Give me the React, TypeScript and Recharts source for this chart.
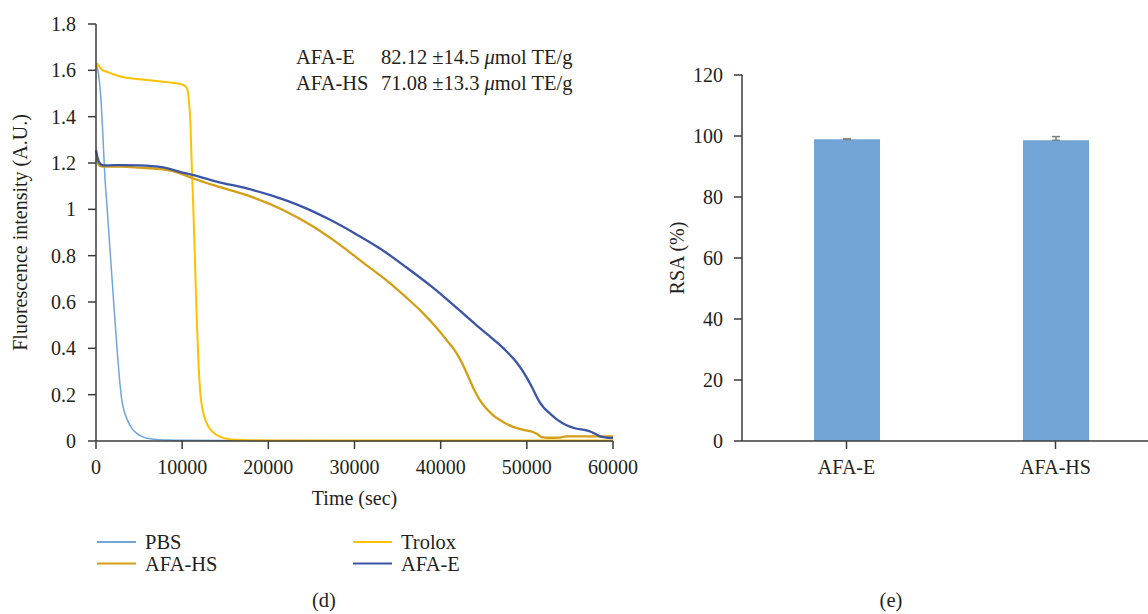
import { LineChart, Line, XAxis, YAxis, BarChart, Bar, ErrorBar } from "recharts";

const FONT = "'Liberation Serif', 'Times New Roman', serif";
const INK = "#231f20";
const AXIS = "#3b3b3b";

// ORAC kinetic curves (time in sec, fluorescence in A.U.)
const pbsTime = [0, 150, 400, 600, 800, 1000, 1300, 1600, 1900, 2200, 2500, 2800, 3000, 3300, 3650, 4100, 4700, 5300, 5900, 7000, 8500, 10000, 15000, 20000, 30000, 40000, 50000, 60000];
const pbsValue = [1.62, 1.61, 1.55, 1.46, 1.32, 1.16, 1.0, 0.84, 0.68, 0.52, 0.37, 0.24, 0.175, 0.125, 0.09, 0.058, 0.034, 0.02, 0.012, 0.007, 0.004, 0.003, 0.002, 0.002, 0.001, 0.001, 0.001, 0.001];

const troloxTime = [0, 150, 400, 800, 1250, 2000, 3200, 5000, 7000, 8500, 9750, 10300, 10600, 10800, 10950, 11100, 11300, 11500, 11700, 11900, 12100, 12400, 12700, 13000, 13400, 13900, 14500, 15300, 16500, 18000, 20000, 30000, 40000, 50000, 60000];
const troloxValue = [1.61, 1.63, 1.615, 1.6, 1.594, 1.583, 1.57, 1.562, 1.554, 1.548, 1.541, 1.533, 1.518, 1.46, 1.38, 1.2, 1.0, 0.76, 0.52, 0.33, 0.21, 0.13, 0.09, 0.065, 0.045, 0.028, 0.017, 0.009, 0.005, 0.003, 0.002, 0.002, 0.002, 0.002, 0.002];

const hsTime = [0, 200, 450, 800, 1500, 3000, 5000, 7800, 9750, 11300, 14000, 17500, 21700, 25000, 28000, 31000, 34000, 36000, 38000, 39500, 40700, 41650, 42500, 43300, 43900, 44550, 45300, 46100, 47200, 48400, 49900, 50700, 51200, 51700, 52500, 53800, 54600, 56000, 58000, 60000];
const hsValue = [1.22, 1.2, 1.188, 1.184, 1.184, 1.184, 1.18, 1.172, 1.155, 1.133, 1.1, 1.061, 0.997, 0.93, 0.855, 0.77, 0.685, 0.62, 0.55, 0.49, 0.435, 0.39, 0.335, 0.27, 0.22, 0.176, 0.14, 0.111, 0.083, 0.061, 0.046, 0.039, 0.03, 0.017, 0.014, 0.015, 0.02, 0.02, 0.02, 0.02];

const eTime = [0, 200, 450, 800, 1500, 3000, 5000, 7800, 9750, 11300, 14000, 17500, 20500, 23700, 27000, 30000, 33000, 36000, 39000, 42000, 44000, 45500, 46700, 47830, 48800, 49960, 50600, 51300, 52000, 52700, 53600, 54600, 55700, 56900, 57500, 58000, 58500, 59200, 60000];
const eValue = [1.256, 1.22, 1.198, 1.19, 1.19, 1.191, 1.19, 1.181, 1.162, 1.148, 1.12, 1.09, 1.058, 1.015, 0.958, 0.897, 0.83, 0.75, 0.665, 0.57, 0.505, 0.458, 0.42, 0.38, 0.34, 0.276, 0.232, 0.18, 0.142, 0.118, 0.09, 0.068, 0.054, 0.046, 0.039, 0.03, 0.02, 0.015, 0.013];

const xTicks = [0, 10000, 20000, 30000, 40000, 50000, 60000];
const yTicks = [0, 0.2, 0.4, 0.6, 0.8, 1, 1.2, 1.4, 1.6, 1.8];

// RSA bar panel
const rsaNames = ["AFA-E", "AFA-HS"];
const rsaValues = [98.9, 98.6];
const rsaErrUp = [0.15, 1.2];
const rsaTicks = [0, 20, 40, 60, 80, 100, 120];

const toRows = (time: number[], value: number[]) => time.map((t, i) => ({ t, v: value[i] }));

const series = [
  { name: "PBS", color: "#6fa6dc", width: 1.5, rows: toRows(pbsTime, pbsValue) },
  { name: "Trolox", color: "#ffc000", width: 2, rows: toRows(troloxTime, troloxValue) },
  { name: "AFA-HS", color: "#d49f17", width: 2.3, rows: toRows(hsTime, hsValue) },
  { name: "AFA-E", color: "#3a55a6", width: 2.3, rows: toRows(eTime, eValue) },
];

const legendOrder = ["PBS", "Trolox", "AFA-HS", "AFA-E"];

const barRows = rsaNames.map((name, i) => ({ name, rsa: rsaValues[i], err: [0, rsaErrUp[i]] }));

const tickStyle = { fill: INK, fontSize: 20, fontFamily: FONT };
const labelStyle = { fill: INK, fontSize: 20, fontFamily: FONT };

export default function App() {
  return (
    <div style={{ position: "absolute", left: 0, top: 0, width: 1148, height: 614, overflow: "hidden", background: "#fff", fontFamily: FONT }}>
      <div style={{ position: "absolute", left: 0, top: 0 }}>
        <LineChart width={640} height={614} margin={{ top: 24, right: 27, left: 20, bottom: 133 }}>
          <XAxis
            dataKey="t"
            type="number"
            domain={[0, 60000]}
            ticks={xTicks}
            height={40}
            tickSize={8}
            tickMargin={11}
            tick={tickStyle}
            stroke={AXIS}
            strokeWidth={1.5}
            label={{ value: "Time (sec)", position: "bottom", offset: 10, ...labelStyle }}
          />
          <YAxis
            type="number"
            domain={[0, 1.8]}
            ticks={yTicks}
            width={76}
            tickSize={8}
            tickMargin={12}
            tick={tickStyle}
            stroke={AXIS}
            strokeWidth={1.5}
            label={{ value: "Fluorescence intensity (A.U.)", angle: -90, position: "insideLeft", offset: 0, ...labelStyle, style: { textAnchor: "middle" } }}
          />
          {series.map((s) => (
            <Line
              key={s.name}
              data={s.rows}
              dataKey="v"
              name={s.name}
              type="monotone"
              stroke={s.color}
              strokeWidth={s.width}
              dot={false}
              activeDot={false}
              isAnimationActive={false}
            />
          ))}
        </LineChart>
      </div>

      <div style={{ position: "absolute", left: 640, top: 0 }}>
        <BarChart width={520} height={614} data={barRows} margin={{ top: 75, right: 0, left: 22, bottom: 133 }}>
          <XAxis
            dataKey="name"
            height={40}
            tickSize={8}
            tickMargin={11}
            tick={tickStyle}
            stroke={AXIS}
            strokeWidth={1.5}
          />
          <YAxis
            domain={[0, 120]}
            ticks={rsaTicks}
            width={80}
            tickSize={8}
            tickMargin={11}
            tick={tickStyle}
            stroke={AXIS}
            strokeWidth={1.5}
            label={{ value: "RSA (%)", angle: -90, position: "insideLeft", offset: 15, ...labelStyle, style: { textAnchor: "middle" } }}
          />
          <Bar dataKey="rsa" fill="#72a5d6" barSize={66} isAnimationActive={false}>
            <ErrorBar dataKey="err" direction="y" width={4} stroke="#7f7f7f" strokeWidth={1.5} isAnimationActive={false} />
          </Bar>
        </BarChart>
      </div>

      <svg width={1148} height={614} style={{ position: "absolute", left: 0, top: 0, pointerEvents: "none" }}>
        <g fontFamily={FONT} fontSize={20.5} fill={INK}>
          <text x={296} y={64}>AFA-E</text>
          <text x={381} y={64}>82.12 ±14.5 <tspan fontStyle="italic">μ</tspan>mol TE/g</text>
          <text x={296} y={90}>AFA-HS</text>
          <text x={381} y={90}>71.08 ±13.3 <tspan fontStyle="italic">μ</tspan>mol TE/g</text>
        </g>
        <g fontFamily={FONT} fontSize={20.5} fill={INK}>
          {legendOrder.map((name, i) => {
            const s = series.find((d) => d.name === name)!;
            const col = i % 2;
            const row = Math.floor(i / 2);
            const x0 = col === 0 ? 97 : 353;
            const y0 = 542 + row * 21.5;
            return (
              <g key={name}>
                <line x1={x0} x2={x0 + 39} y1={y0} y2={y0} stroke={s.color} strokeWidth={2} />
                <text x={x0 + 48} y={y0 + 7}>{name}</text>
              </g>
            );
          })}
          <text x={324} y={607} textAnchor="middle">(d)</text>
          <text x={891} y={607} textAnchor="middle">(e)</text>
        </g>
      </svg>
    </div>
  );
}
